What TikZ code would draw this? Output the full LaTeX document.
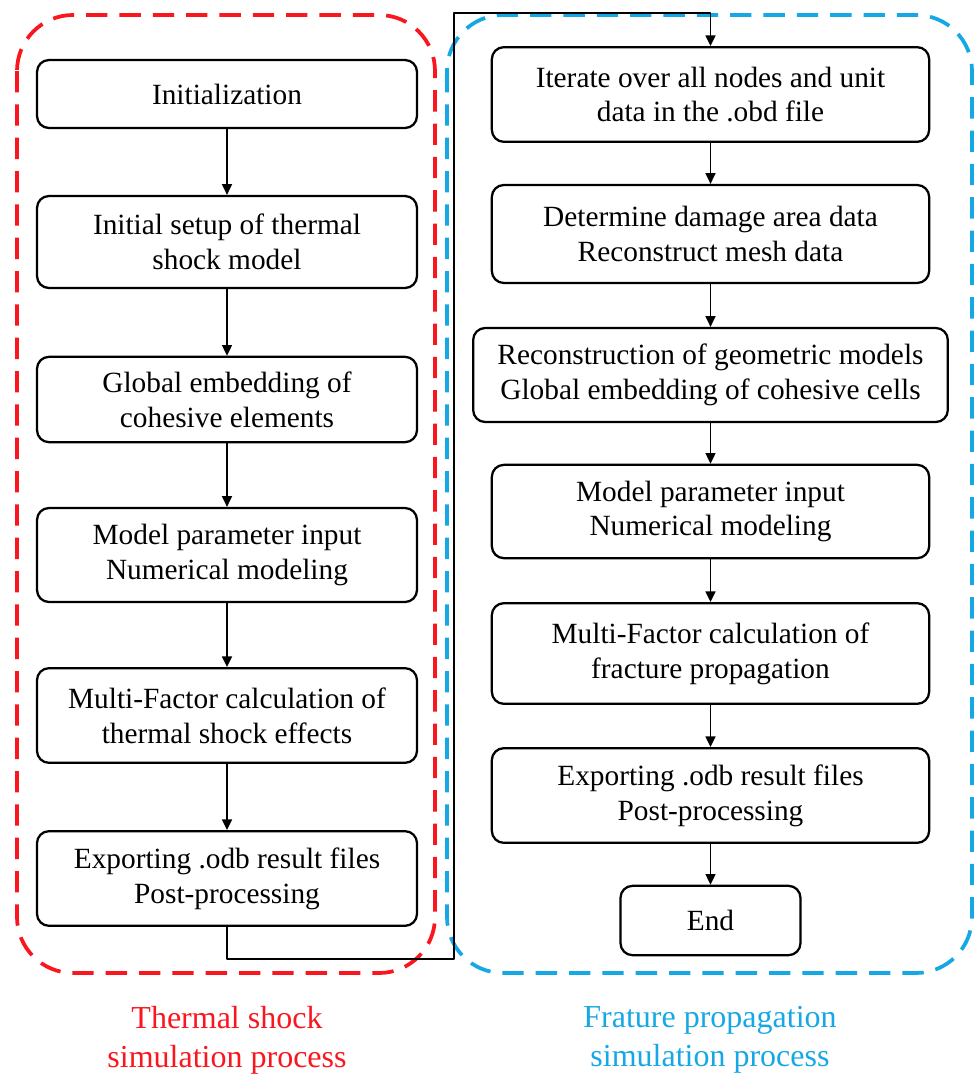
\documentclass[tikz,border=0pt]{standalone}
\usepackage{fontspec}
\setmainfont{Liberation Serif}
\usepackage{tikz}
\usetikzlibrary{arrows.meta}
\definecolor{framered}{RGB}{250,22,30}
\definecolor{frameblue}{RGB}{22,168,228}

\begin{document}
\begin{tikzpicture}[line cap=round,line join=round,>={Triangle[length=8pt,width=7.5pt]},x=0.75pt,y=-0.75pt,
  procbox/.style={draw,line width=1.7pt,rounded corners=9pt,align=center,inner sep=0pt,font=\fontsize{22}{26}\selectfont},
  flow/.style={->,line width=1.1pt},
  frame/.style={line width=2.8pt,dash pattern=on 16pt off 9pt,line cap=butt,rounded corners=42pt},
  caption/.style={align=center,font=\fontsize{24}{29}\selectfont}]
\useasboundingbox (0,0) rectangle (975,1075);
% group frames
\draw [frame,color=framered] (17,15) rectangle (435,973);
\draw [frame,color=frameblue] (447,15) rectangle (972,973);
% thermal shock column
\node [procbox,minimum width=285pt,minimum height=51pt] (init) at (227,94) {Initialization};
\node [procbox,minimum width=285pt,minimum height=69pt] (setup) at (227,242) {Initial setup of thermal\\shock model};
\node [procbox,minimum width=285pt,minimum height=64pt] (embed) at (227,399.5) {Global embedding of\\cohesive elements};
\node [procbox,minimum width=285pt,minimum height=70.5pt] (param) at (227,555) {Model parameter input\\Numerical modeling};
\node [procbox,minimum width=285pt,minimum height=71pt] (calc) at (227,715.5) {Multi-Factor calculation of\\thermal shock effects};
\node [procbox,minimum width=285pt,minimum height=71pt] (export) at (227,878.5) {Exporting .odb result files\\Post-processing};
% fracture column
\node [procbox,minimum width=328pt,minimum height=71pt] (iterate) at (710.5,94.5) {Iterate over all nodes and unit\\data in the .obd file};
\node [procbox,minimum width=328pt,minimum height=73.5pt] (damage) at (710.5,234) {Determine damage area data\\Reconstruct mesh data};
\node [procbox,minimum width=356pt,minimum height=70.5pt] (rebuild) at (710.5,375) {Reconstruction of geometric models\\Global embedding of cohesive cells};
\node [procbox,minimum width=328pt,minimum height=70pt] (paramR) at (710.5,511.5) {Model parameter input\\Numerical modeling};
\node [procbox,minimum width=328pt,minimum height=75.5pt] (calcR) at (710.5,653.5) {Multi-Factor calculation of\\fracture propagation};
\node [procbox,minimum width=328pt,minimum height=71pt] (exportR) at (710.5,795.5) {Exporting .odb result files\\Post-processing};
\node [procbox,minimum width=135pt,minimum height=52pt] (end) at (710.5,920.5) {End};
% arrows
\draw [flow] (init) -- (setup);
\draw [flow] (setup) -- (embed);
\draw [flow] (embed) -- (param);
\draw [flow] (param) -- (calc);
\draw [flow] (calc) -- (export);
\coordinate (bendlow) at (454,959);
\coordinate (bendhigh) at (454,13);
\draw [flow] (export.south) |- (bendlow) -- (bendhigh) -| (iterate.north);
\draw [flow] (iterate) -- (damage);
\draw [flow] (damage) -- (rebuild);
\draw [flow] (rebuild) -- (paramR);
\draw [flow] (paramR) -- (calcR);
\draw [flow] (calcR) -- (exportR);
\draw [flow] (exportR) -- (end);
\node [caption,text=framered] (thermallbl) at (227,1040) {Thermal shock\\simulation process};
\node [caption,text=frameblue] (fracturelbl) at (710,1040) {Frature propagation\\simulation process};
\end{tikzpicture}
\end{document}
